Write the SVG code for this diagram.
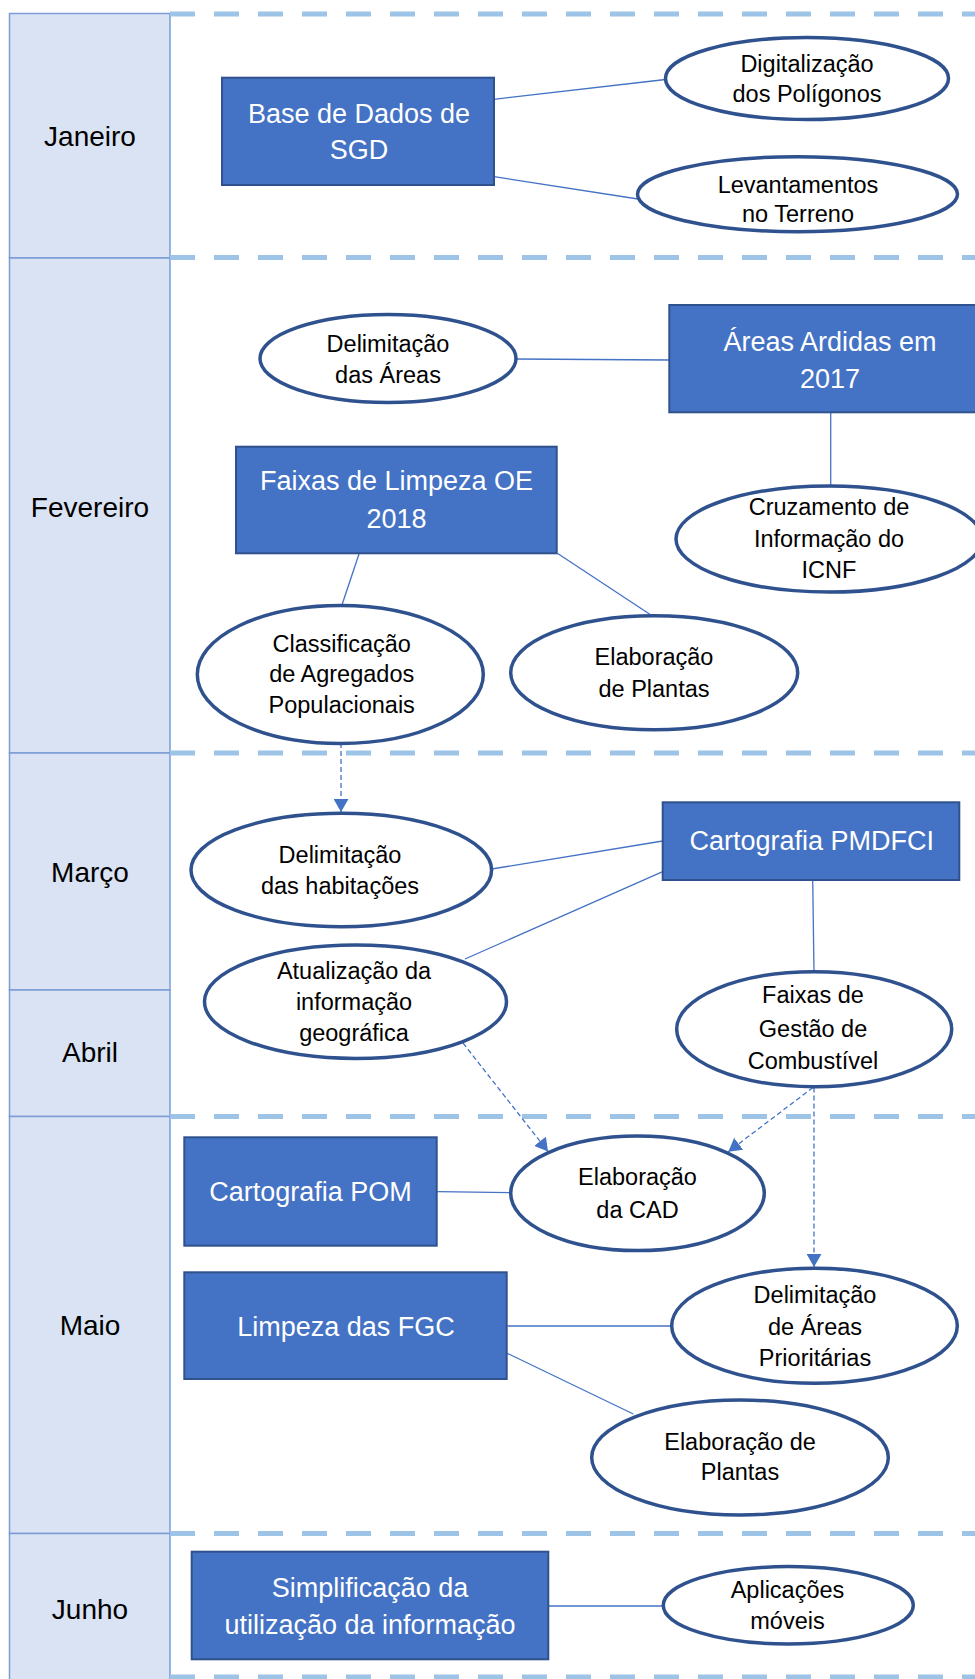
<svg xmlns="http://www.w3.org/2000/svg" width="975" height="1679" viewBox="0 0 975 1679">
<defs>
<style>
.cell{fill:#DAE3F3;stroke:#7C9CD6;stroke-width:1.5}
.sep{stroke:#9DC3E6;stroke-width:5;stroke-dasharray:25 19;fill:none}
.box{fill:#4472C4;stroke:#2F528F;stroke-width:2}
.ell{fill:#FFFFFF;stroke:#2F528F;stroke-width:3.5}
.month{font-family:"Liberation Sans",Arial,sans-serif;font-size:28px;fill:#000;text-anchor:middle}
.bt{font-family:"Liberation Sans",Arial,sans-serif;font-size:27px;fill:#FFFFFF;text-anchor:middle}
.et{font-family:"Liberation Sans",Arial,sans-serif;font-size:23.5px;fill:#000;text-anchor:middle}
.ln{stroke:#4472C4;stroke-width:1.3;fill:none}
.dl{stroke:#4472C4;stroke-width:1.3;stroke-dasharray:5 3;fill:none}
</style>
<marker id="arr" viewBox="0 0 13 15" refX="13" refY="7.5" markerWidth="13" markerHeight="15" markerUnits="userSpaceOnUse" orient="auto">
<path d="M0,0 L13,7.5 L0,15 z" fill="#4472C4"/>
</marker>
</defs>
<rect width="975" height="1679" fill="#FFFFFF"/>

<g id="months">
<rect class="cell" x="9.5" y="13.5" width="160.5" height="244.5"/>
<rect class="cell" x="9.5" y="258" width="160.5" height="495"/>
<rect class="cell" x="9.5" y="753" width="160.5" height="237"/>
<rect class="cell" x="9.5" y="990" width="160.5" height="126.5"/>
<rect class="cell" x="9.5" y="1116.5" width="160.5" height="417"/>
<rect class="cell" x="9.5" y="1533.5" width="160.5" height="150"/>
<text class="month" x="90" y="146">Janeiro</text>
<text class="month" x="90" y="517">Fevereiro</text>
<text class="month" x="90" y="882">Março</text>
<text class="month" x="90" y="1062">Abril</text>
<text class="month" x="90" y="1335">Maio</text>
<text class="month" x="90" y="1619">Junho</text>
</g>

<g id="separators">
<line class="sep" x1="170" y1="14" x2="975" y2="14"/>
<line class="sep" x1="170" y1="257.5" x2="975" y2="257.5"/>
<line class="sep" x1="170" y1="753" x2="975" y2="753"/>
<line class="sep" x1="170" y1="1116.5" x2="975" y2="1116.5"/>
<line class="sep" x1="170" y1="1533.5" x2="975" y2="1533.5"/>
<line class="sep" x1="170" y1="1677" x2="975" y2="1677"/>
</g>

<g id="connectors">
<line class="ln" x1="494" y1="99.3" x2="665.5" y2="79.5"/>
<line class="ln" x1="494" y1="176.7" x2="638" y2="199"/>
<line class="ln" x1="516" y1="359" x2="669" y2="360"/>
<line class="ln" x1="830.7" y1="412" x2="830.7" y2="486"/>
<line class="ln" x1="359" y1="554" x2="341.7" y2="605.7"/>
<line class="ln" x1="557.3" y1="553.3" x2="651.7" y2="615.5"/>
<line class="ln" x1="491.7" y1="869" x2="662.7" y2="841"/>
<line class="ln" x1="465" y1="959" x2="662.7" y2="871.7"/>
<line class="ln" x1="812.7" y1="880" x2="814" y2="971.7"/>
<line class="ln" x1="437.3" y1="1191.7" x2="510.7" y2="1192.7"/>
<line class="ln" x1="507.3" y1="1326" x2="671.7" y2="1326"/>
<line class="ln" x1="507.3" y1="1353.3" x2="633.3" y2="1414"/>
<line class="ln" x1="549" y1="1606" x2="663.3" y2="1606"/>
<line class="dl" x1="341" y1="743" x2="341" y2="812" marker-end="url(#arr)"/>
<line class="dl" x1="463" y1="1043" x2="548" y2="1151.5" marker-end="url(#arr)"/>
<line class="dl" x1="813" y1="1087.5" x2="728.3" y2="1151.7" marker-end="url(#arr)"/>
<line class="dl" x1="814" y1="1087.5" x2="814" y2="1267" marker-end="url(#arr)"/>
</g>

<g id="base-sgd">
<rect class="box" x="222" y="77.7" width="272" height="107.3"/>
<text class="bt" x="359" y="123.3">Base de Dados de</text>
<text class="bt" x="359" y="159.3">SGD</text>
</g>
<g id="digitalizacao">
<ellipse class="ell" cx="807" cy="78.5" rx="141.5" ry="41"/>
<text class="et" x="807" y="71.7">Digitalização</text>
<text class="et" x="807" y="101.7">dos Polígonos</text>
</g>
<g id="levantamentos">
<ellipse class="ell" cx="797.5" cy="194.2" rx="160" ry="37.5"/>
<text class="et" x="798" y="192.7">Levantamentos</text>
<text class="et" x="798" y="222.3">no Terreno</text>
</g>

<g id="delimitacao-areas">
<ellipse class="ell" cx="388" cy="358.5" rx="128" ry="44"/>
<text class="et" x="388" y="351.7">Delimitação</text>
<text class="et" x="388" y="382.7">das Áreas</text>
</g>
<g id="areas-ardidas">
<rect class="box" x="669.3" y="305" width="322" height="107.3"/>
<text class="bt" x="830" y="350.7">Áreas Ardidas em</text>
<text class="bt" x="830" y="387.7">2017</text>
</g>
<g id="cruzamento">
<ellipse class="ell" cx="829" cy="539" rx="153" ry="53"/>
<text class="et" x="829" y="515">Cruzamento de</text>
<text class="et" x="829" y="546.7">Informação do</text>
<text class="et" x="829" y="577.7">ICNF</text>
</g>
<g id="faixas-limpeza">
<rect class="box" x="236" y="446.7" width="320.7" height="106.6"/>
<text class="bt" x="396.5" y="490">Faixas de Limpeza OE</text>
<text class="bt" x="396.5" y="527.7">2018</text>
</g>
<g id="classificacao">
<ellipse class="ell" cx="340.3" cy="674.5" rx="143" ry="69"/>
<text class="et" x="341.7" y="651.7">Classificação</text>
<text class="et" x="341.7" y="681.7">de Agregados</text>
<text class="et" x="341.7" y="713.3">Populacionais</text>
</g>
<g id="elaboracao-plantas-fev">
<ellipse class="ell" cx="654.2" cy="672.8" rx="143.5" ry="57"/>
<text class="et" x="654" y="665">Elaboração</text>
<text class="et" x="654" y="696.7">de Plantas</text>
</g>

<g id="delimitacao-habitacoes">
<ellipse class="ell" cx="341.3" cy="870" rx="150.3" ry="56.7"/>
<text class="et" x="340" y="863.3">Delimitação</text>
<text class="et" x="340" y="894">das habitações</text>
</g>
<g id="cartografia-pmdfci">
<rect class="box" x="662.7" y="802.3" width="296.6" height="77.7"/>
<text class="bt" x="811.7" y="850">Cartografia PMDFCI</text>
</g>
<g id="atualizacao">
<ellipse class="ell" cx="355.5" cy="1001.7" rx="151" ry="56.7"/>
<text class="et" x="354" y="979">Atualização da</text>
<text class="et" x="354" y="1010">informação</text>
<text class="et" x="354" y="1040.7">geográfica</text>
</g>
<g id="faixas-gestao">
<ellipse class="ell" cx="814.2" cy="1029.2" rx="137.5" ry="57.5"/>
<text class="et" x="813" y="1003.3">Faixas de</text>
<text class="et" x="813" y="1036.7">Gestão de</text>
<text class="et" x="813" y="1069.3">Combustível</text>
</g>

<g id="cartografia-pom">
<rect class="box" x="184.3" y="1137.3" width="252.4" height="108.4"/>
<text class="bt" x="310.5" y="1200.7">Cartografia POM</text>
</g>
<g id="elaboracao-cad">
<ellipse class="ell" cx="637.5" cy="1193.3" rx="126.8" ry="57.3"/>
<text class="et" x="637.5" y="1185">Elaboração</text>
<text class="et" x="637.5" y="1218.3">da CAD</text>
</g>
<g id="limpeza-fgc">
<rect class="box" x="184.3" y="1272.3" width="322.4" height="106.7"/>
<text class="bt" x="346" y="1336">Limpeza das FGC</text>
</g>
<g id="delimitacao-prioritarias">
<ellipse class="ell" cx="814.5" cy="1325.8" rx="142.8" ry="57.5"/>
<text class="et" x="815" y="1303.3">Delimitação</text>
<text class="et" x="815" y="1335">de Áreas</text>
<text class="et" x="815" y="1366">Prioritárias</text>
</g>
<g id="elaboracao-plantas-mai">
<ellipse class="ell" cx="740" cy="1457.5" rx="148.3" ry="57.5"/>
<text class="et" x="740" y="1450">Elaboração de</text>
<text class="et" x="740" y="1480">Plantas</text>
</g>

<g id="simplificacao">
<rect class="box" x="191.7" y="1551.7" width="356.6" height="107.6"/>
<text class="bt" x="370" y="1596.7">Simplificação da</text>
<text class="bt" x="370" y="1634">utilização da informação</text>
</g>
<g id="aplicacoes">
<ellipse class="ell" cx="788.3" cy="1605.3" rx="125" ry="38.7"/>
<text class="et" x="787.5" y="1598.3">Aplicações</text>
<text class="et" x="787.5" y="1629.3">móveis</text>
</g>
</svg>
